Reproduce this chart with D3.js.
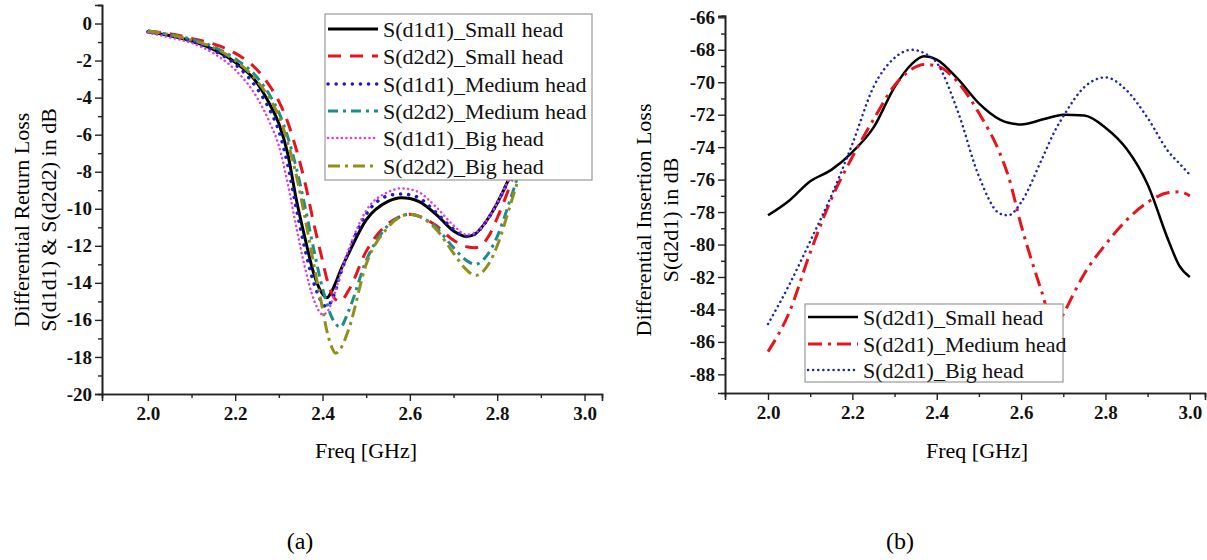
<!DOCTYPE html>
<html>
<head>
    <meta charset="utf-8">
    <title></title>
    <script src="https://d3js.org/d3.v7.min.js"></script>
    <style>
        body { margin: 0; background: #fff; }
        svg text { font-family: 'Liberation Serif', 'Times New Roman', serif; }
        svg .tick text { font-weight: 700; font-size: 19px; }
    </style>
</head>
<body>
    <svg width="1207" height="560" id="svg1" font-family="Liberation Serif"></svg>
</body>
<script>
// chart (a): differential return loss
var freqA = [2.00, 2.05, 2.10, 2.15, 2.20, 2.25, 2.28, 2.30, 2.32, 2.34, 2.36, 2.38, 2.40, 2.41, 2.42, 2.43,
             2.44, 2.46, 2.50, 2.55, 2.58, 2.60, 2.62, 2.66, 2.70, 2.73, 2.75, 2.78, 2.80, 2.83, 2.86, 2.90];
var sd1d1Small  = [-0.45, -0.65, -0.95, -1.4, -2.1, -3.2, -4.4, -5.4, -7.0, -9.5, -11.6, -13.5, -14.6, -14.8, -14.5, -14.0,
                   -13.4, -12.4, -10.6, -9.6, -9.4, -9.45, -9.6, -10.3, -11.2, -11.5, -11.35, -10.5, -9.7, -8.2, -6.3, -3.5];
var sd2d2Small  = [-0.4, -0.55, -0.8, -1.1, -1.6, -2.5, -3.4, -4.2, -5.3, -6.8, -8.6, -10.8, -12.8, -13.8, -14.5, -14.9,
                   -15.0, -14.4, -12.3, -10.8, -10.4, -10.3, -10.4, -10.9, -11.7, -12.05, -12.1, -11.5, -10.5, -8.7, -6.6, -3.8];
var sd1d1Medium = [-0.45, -0.65, -0.95, -1.45, -2.2, -3.5, -4.7, -5.8, -7.6, -10.0, -12.2, -14.0, -15.1, -15.3, -15.0, -14.4,
                   -13.6, -12.3, -10.3, -9.3, -9.2, -9.25, -9.4, -10.2, -11.1, -11.5, -11.35, -10.5, -9.7, -8.2, -6.3, -3.5];
var sd2d2Medium = [-0.4, -0.6, -0.85, -1.25, -1.9, -2.9, -3.9, -4.8, -6.1, -7.8, -9.9, -12.2, -14.3, -15.1, -15.8, -16.2,
                   -16.4, -15.5, -12.8, -10.9, -10.4, -10.3, -10.4, -11.0, -12.1, -12.8, -13.0, -12.4, -11.5, -9.5, -7.3, -4.3];
var sd1d1Big    = [-0.5, -0.75, -1.05, -1.6, -2.5, -4.0, -5.4, -6.6, -8.6, -11.0, -13.2, -14.9, -15.7, -15.6, -15.1, -14.4,
                   -13.6, -12.2, -10.1, -9.1, -8.9, -8.95, -9.1, -9.9, -10.9, -11.4, -11.3, -10.5, -9.7, -8.2, -6.3, -3.5];
var sd2d2Big    = [-0.4, -0.6, -0.9, -1.3, -2.0, -3.1, -4.1, -5.0, -6.4, -8.2, -10.5, -13.0, -15.4, -16.6, -17.4, -17.8,
                   -17.6, -16.5, -13.0, -11.0, -10.4, -10.3, -10.4, -11.1, -12.4, -13.3, -13.6, -13.0, -12.0, -9.8, -7.5, -4.5];
var namesA = ['S(d1d1)_Small head', 'S(d2d2)_Small head', 'S(d1d1)_Medium head',
              'S(d2d2)_Medium head', 'S(d1d1)_Big head', 'S(d2d2)_Big head'];

// chart (b): differential insertion loss
var freqB = [2.00, 2.05, 2.10, 2.15, 2.20, 2.25, 2.30, 2.34, 2.37, 2.40, 2.45, 2.50, 2.55, 2.57, 2.60, 2.65,
             2.68, 2.70, 2.75, 2.80, 2.85, 2.90, 2.95, 2.975, 3.00];
var sd2d1Small  = [-78.2, -77.3, -76.1, -75.4, -74.3, -72.8, -70.3, -68.9, -68.4, -68.6, -69.8, -71.3, -72.3, -72.5, -72.6, -72.3,
                   -72.1, -72.0, -72.05, -72.8, -74.1, -76.3, -79.8, -81.3, -82.0];
var sd2d1Medium = [-86.6, -84.2, -80.5, -77.2, -74.6, -72.3, -70.2, -69.2, -68.9, -69.0, -70.0, -71.9, -74.4, -75.8, -78.8, -83.0,
                   -85.3, -84.3, -81.8, -80.0, -78.5, -77.4, -76.8, -76.75, -77.0];
var sd2d1Big    = [-84.9, -82.5, -79.8, -77.0, -73.8, -70.3, -68.5, -68.0, -68.2, -68.8, -71.8, -75.8, -78.1, -78.2, -77.4, -74.7,
                   -73.0, -72.1, -70.3, -69.7, -70.5, -72.2, -74.3, -75.0, -75.7];
var namesB = ['S(d2d1)_Small head', 'S(d2d1)_Medium head', 'S(d2d1)_Big head'];

var ticksA = [-20, -18, -16, -14, -12, -10, -8, -6, -4, -2, 0];
var ticksB = [-88, -86, -84, -82, -80, -78, -76, -74, -72, -70, -68, -66];
var ticksX = [2.0, 2.2, 2.4, 2.6, 2.8, 3.0];

var svg = d3.select('#svg1');

var stylesA = [
    {color: '#000000', width: 3, dash: null, cap: 'butt'},
    {color: '#e8141c', width: 3, dash: '13,9', cap: 'butt'},
    {color: '#1a1acc', width: 3.5, dash: '0.1,8', cap: 'round'},
    {color: '#1c8c8c', width: 3, dash: '10,5,3,5', cap: 'butt'},
    {color: '#e03ce4', width: 2.5, dash: '0.1,4.5', cap: 'round'},
    {color: '#8f8f1c', width: 3, dash: '12,5,3,5', cap: 'butt'}
];
var stylesB = [
    {color: '#000000', width: 2.5, dash: null, cap: 'butt'},
    {color: '#e8141c', width: 3, dash: '14,6,3,6', cap: 'butt'},
    {color: '#1f22b5', width: 2.5, dash: '0.1,5', cap: 'round'}
];

function drawAxes(x, y, majorY, minorY, minorX, title1, title2, titleX, t1x, t2x, ty, fx) {
    var y0 = y.range()[0], x0 = x.range()[0];

    svg.append('g')
        .attr('transform', 'translate(0,' + y0 + ')')
        .call(d3.axisBottom(x).tickValues(minorX).tickSize(4).tickFormat(''))
    svg.append('g')
        .attr('transform', 'translate(0,' + y0 + ')')
        .call(d3.axisBottom(x).tickValues(ticksX).tickSize(7).tickPadding(6).tickFormat(function(d){ return d.toFixed(1) }))
    svg.append('g')
        .attr('transform', 'translate(' + x0 + ',0)')
        .call(d3.axisLeft(y).tickValues(minorY).tickSize(4).tickFormat(''))
    svg.append('g')
        .attr('transform', 'translate(' + x0 + ',0)')
        .call(d3.axisLeft(y).tickValues(majorY).tickSize(7).tickPadding(3).tickFormat(function(d){ return String(d) }))

    svg.selectAll('.domain').attr('stroke-width', 1.6).attr('stroke', '#222')
    svg.selectAll('.tick line').attr('stroke-width', 1.4).attr('stroke', '#222')
    svg.selectAll('.tick text')
        .attr('fill', '#111')
        .attr('font-weight', 'bold')
        .attr('font-size', 19)

    svg.append('text')
        .attr('transform', 'translate(' + t1x + ',' + ty + ') rotate(-90)')
        .attr('text-anchor', 'middle')
        .style('font-size', '22px')
        .text(title1)
    svg.append('text')
        .attr('transform', 'translate(' + t2x + ',' + ty + ') rotate(-90)')
        .attr('text-anchor', 'middle')
        .style('font-size', '22px')
        .text(title2)
    svg.append('text')
        .attr('x', fx)
        .attr('y', 458)
        .attr('text-anchor', 'middle')
        .style('font-size', '22px')
        .text(titleX)
}

function drawLines(x, y, freq, series, styles) {
    var line = d3.line()
        .x(function(d){ return x(d[0]) })
        .y(function(d){ return y(d[1]) })
        .curve(d3.curveMonotoneX);
    series.forEach(function(s, i){
        var pts = freq.map(function(f, j){ return [f, s[j]] });
        svg.append('path')
            .datum(pts)
            .attr('d', line)
            .attr('fill', 'none')
            .attr('stroke', styles[i].color)
            .attr('stroke-width', styles[i].width)
            .attr('stroke-dasharray', styles[i].dash)
            .attr('stroke-linecap', styles[i].cap)
            .attr('stroke-linejoin', 'round')
    })
}

function drawLegend(bx, by, bw, bh, rowY, names, styles) {
    var g = svg.append('g');
    g.append('rect')
        .attr('x', bx).attr('y', by)
        .attr('width', bw).attr('height', bh)
        .attr('fill', '#fff')
        .attr('stroke', '#9a9a9a')
        .attr('stroke-width', 1.2)
    var row = g.selectAll('.row')
        .data(names)
        .enter()
        .append('g')
        .attr('transform', function(d, i){ return 'translate(0,' + rowY[i] + ')' })
    row.append('line')
        .attr('x1', bx + 3).attr('x2', bx + 53)
        .attr('stroke', function(d, i){ return styles[i].color })
        .attr('stroke-width', function(d, i){ return styles[i].width })
        .attr('stroke-dasharray', function(d, i){ return styles[i].dash })
        .attr('stroke-linecap', function(d, i){ return styles[i].cap })
    row.append('text')
        .attr('x', bx + 58)
        .attr('y', 0)
        .attr('dy', '0.35em')
        .style('font-size', '22px')
        .attr('fill', '#111')
        .text(function(d){ return d })
}

// --- (a)
var xA = d3.scaleLinear().domain([1.895, 3.04]).range([102, 602]);
var yA = d3.scaleLinear().domain([-20, 1]).range([394, 5]);
drawLines(xA, yA, freqA, [sd1d1Small, sd2d2Small, sd1d1Medium, sd2d2Medium, sd1d1Big, sd2d2Big], stylesA);
drawLegend(325, 14, 267, 166, [29, 56, 84, 111, 138, 166], namesA, stylesA);
drawAxes(xA, yA, ticksA, d3.range(-19, 2, 2), [2.1, 2.3, 2.5, 2.7, 2.9],
    'Differential Return Loss', 'S(d1d1) & S(d2d2) in dB', 'Freq [GHz]', 29, 56, 220, 366);

// --- (b)
var xB = d3.scaleLinear().domain([1.898, 3.036]).range([725, 1205]);
var yB = d3.scaleLinear().domain([-89.15, -65.9]).range([393, 15.7]);
drawLines(xB, yB, freqB, [sd2d1Small, sd2d1Medium, sd2d1Big], stylesB);
drawLegend(805, 304, 258, 78, [317, 344, 370], namesB, stylesB);
drawAxes(xB, yB, ticksB, d3.range(-87, -66, 2), [2.1, 2.3, 2.5, 2.7, 2.9],
    'Differential Insertion Loss', 'S(d2d1) in dB', 'Freq [GHz]', 651, 678, 220, 977);

svg.append('text').attr('x', 300).attr('y', 549).attr('text-anchor', 'middle')
    .style('font-size', '24px').text('(a)')
svg.append('text').attr('x', 900).attr('y', 549).attr('text-anchor', 'middle')
    .style('font-size', '24px').text('(b)')
</script>
</html>
